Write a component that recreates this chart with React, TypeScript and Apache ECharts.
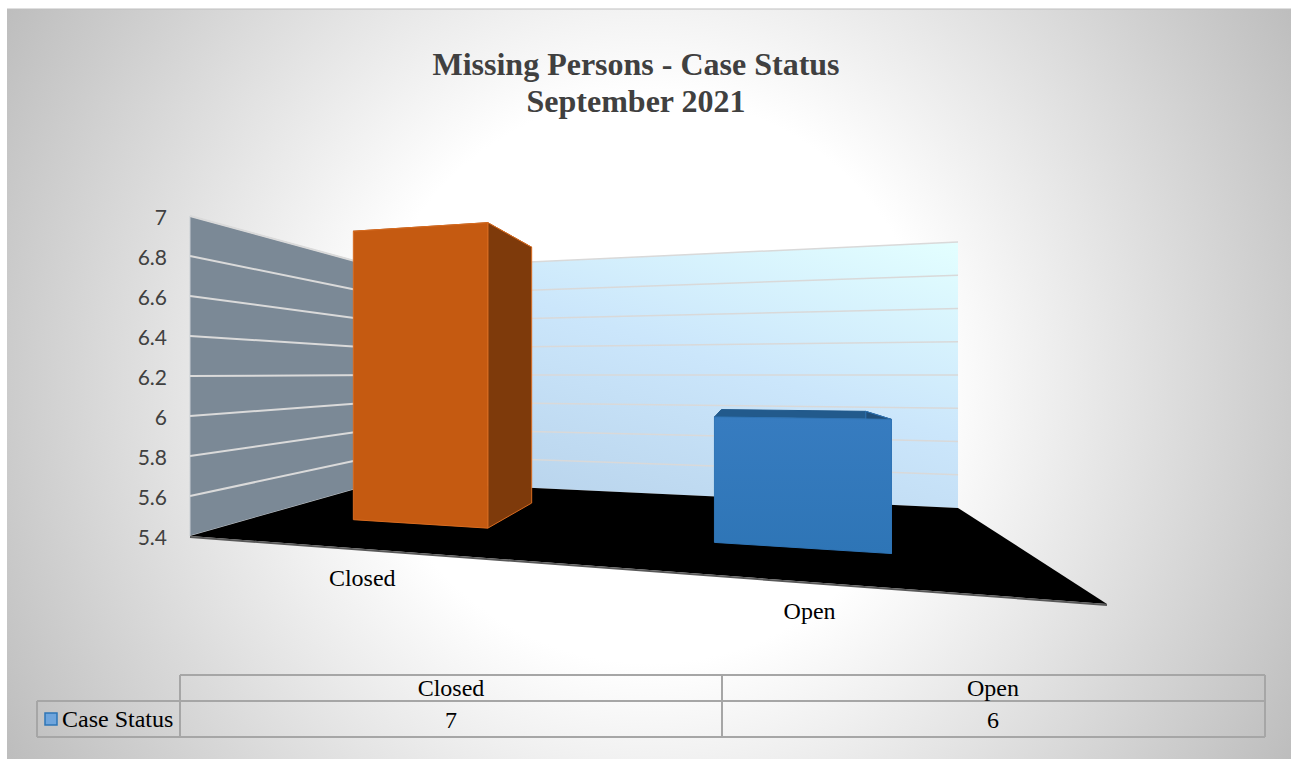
import React, { useEffect, useRef } from "react";
import * as echarts from "echarts";

const categories = ["Closed", "Open"];
const caseStatus = [7, 6];
const seriesName = "Case Status";
const titleLines = ["Missing Persons - Case Status", "September 2021"];
const axisMin = 5.4;
const axisMax = 7;
const axisStep = 0.2;
const tickValues = [5.6, 5.8, 6, 6.2, 6.4, 6.6, 6.8, 7];
const barColors = [
  { front: "#C55A11", side: "#7E3A0B", top: "#A34A0E", edge: "#D96C20" },
  { front: "#377CC0", side: "#1F4E79", top: "#225A8C", edge: "#2F74B5" },
];

const GL = 190, GT = 216, GW = 917, GH = 320;
const SERIF = "'Liberation Serif', serif";

// Perspective of the 3D box: u along categories, v depth, z fraction of the value axis.
const H = { a: 607.7, b: 395.6, c: 190, d: -100.8, e: 197.5, f: 536, g: -0.2794, h: 0.525 };
function project(u: number, v: number, z: number): number[] {
  const w = 1 + H.g * u + H.h * v;
  const x = (H.a * u + H.b * v + H.c) / w;
  const y = (H.d * u + H.e * v + H.f) / w;
  const height = GH / (1 + -0.306 * u + 0.509 * v);
  return [x, y - height * z];
}
const toU = (px: number) => (px - GL) / GW;
const toZ = (py: number) => (GT + GH - py) / GH;
const poly = (points: number[][], style: any) => ({ type: "polygon", shape: { points }, style, silent: true });

function renderWalls() {
  const backFill = new echarts.graphic.LinearGradient(1, 0, 0.3, 1, [
    { offset: 0, color: "#E3FFFF" },
    { offset: 0.5, color: "#CBE6FB" },
    { offset: 1, color: "#B9D4EC" },
  ]);
  return {
    type: "group",
    children: [
      poly([project(0, 1, 0), project(1, 1, 0), project(1, 1, 1), project(0, 1, 1)], { fill: backFill }),
      poly([project(0, 0, 0), project(0, 1, 0), project(0, 1, 1), project(0, 0, 1)], { fill: "#7B8996", stroke: "#C9CED3", lineWidth: 1 }),
      poly([project(0, 0, 0), project(1, 0, 0), project(1, 1, 0), project(0, 1, 0)], { fill: "#000000" }),
      {
        type: "line",
        shape: { x1: project(0, 0, 0)[0], y1: project(0, 0, 0)[1] + 1, x2: project(1, 0, 0)[0], y2: project(1, 0, 0)[1] + 1 },
        style: { stroke: "#595959", lineWidth: 2 },
        silent: true,
      },
    ],
  };
}

function renderTick(_p: any, api: any) {
  const z = toZ(api.coord([0, api.value(1)])[1]);
  const a = project(0, 0, z), b = project(0, 1, z), c = project(1, 1, z);
  return {
    type: "group",
    children: [
      { type: "line", shape: { x1: a[0], y1: a[1], x2: b[0], y2: b[1] }, style: { stroke: "#DADADA", lineWidth: 2 }, silent: true },
      { type: "line", shape: { x1: b[0], y1: b[1], x2: c[0], y2: c[1] }, style: { stroke: "#D9D9D9", lineWidth: 1.5 }, silent: true },
    ],
  };
}

function renderBar(p: any, api: any) {
  const i = api.value(0);
  const pt = api.coord([i, api.value(1)]);
  const halfBand = api.size([1, 0])[0] / GW;
  const uc = toU(pt[0]) - 0.007;
  const z = toZ(pt[1]);
  const u0 = uc - halfBand * 0.202, u1 = uc + halfBand * 0.202;
  const v0 = 0.3, v1 = 0.7;
  const col = barColors[p.dataIndex];
  const label = project(uc, 0, 0);
  const frontFill = new echarts.graphic.LinearGradient(0, 0, 0, 1, [
    { offset: 0, color: col.front },
    { offset: 1, color: p.dataIndex === 1 ? "#2E75B6" : col.front },
  ]);
  const edge = { stroke: col.edge, lineWidth: 1 };
  return {
    type: "group",
    children: [
      poly([project(u0, v0, z), project(u1, v0, z), project(u1, v1, z), project(u0, v1, z)], { fill: col.top, stroke: col.top, lineWidth: 1 }),
      poly([project(u1, v0, 0), project(u1, v1, 0), project(u1, v1, z), project(u1, v0, z)], { fill: col.side, ...edge }),
      poly([project(u0, v0, 0), project(u1, v0, 0), project(u1, v0, z), project(u0, v0, z)], { fill: frontFill, ...edge }),
      {
        type: "text",
        x: label[0],
        y: label[1] + 29,
        style: { text: categories[i], fill: "#000", font: `24px ${SERIF}`, align: "center", verticalAlign: "middle" },
        silent: true,
      },
    ],
  };
}

function cellText(text: string, x: number, y: number, align = "center") {
  return { type: "text", x, y, style: { text, fill: "#000", font: `24px ${SERIF}`, align, verticalAlign: "middle" }, silent: true };
}
function rule(x1: number, y1: number, x2: number, y2: number) {
  return { type: "line", shape: { x1, y1, x2, y2 }, style: { stroke: "#A6A6A6", lineWidth: 2 }, silent: true };
}

export default function App() {
  const ref = useRef<HTMLDivElement>(null);
  useEffect(() => {
    const chart = echarts.init(ref.current!, null, { renderer: "svg" });
    chart.setOption({
      animation: false,
      title: {
        text: titleLines.join("\n"),
        left: 631,
        top: 40,
        textAlign: "center",
        textStyle: { fontFamily: SERIF, fontWeight: "bold", fontSize: 32, lineHeight: 37, color: "#404040" },
      },
      grid: { left: GL, top: GT, width: GW, height: GH },
      xAxis: { type: "category", data: categories, show: false },
      yAxis: {
        type: "value",
        min: axisMin,
        max: axisMax,
        interval: axisStep,
        axisLine: { show: false },
        axisTick: { show: false },
        splitLine: { show: false },
        axisLabel: { margin: 23, fontFamily: "Lato", fontSize: 21, color: "#404040", padding: [0, 0, 8, 0] },
      },
      graphic: [
        {
          type: "rect",
          z: -10,
          silent: true,
          shape: { x: 7, y: 9, width: 1284, height: 750 },
          style: {
            fill: new echarts.graphic.RadialGradient(650, 380, 745, [
              { offset: 0, color: "#FFFFFF" },
              { offset: 0.38, color: "#FFFFFF" },
              { offset: 1, color: "#BDBDBD" },
            ], true),
          },
        },
        { type: "line", z: -9, silent: true, shape: { x1: 7, y1: 9, x2: 1291, y2: 9 }, style: { stroke: "#BFBFBF", lineWidth: 1 } },
        {
          type: "group",
          silent: true,
          children: [
            rule(180, 675, 1265, 675),
            rule(37, 701, 1265, 701),
            rule(37, 737, 1265, 737),
            rule(37, 701, 37, 737),
            rule(180, 675, 180, 737),
            rule(722, 675, 722, 737),
            rule(1265, 675, 1265, 737),
            { type: "rect", shape: { x: 45, y: 713, width: 12, height: 12 }, style: { fill: "#6FA5DC", stroke: "#2E75B6", lineWidth: 1.5 }, silent: true },
            cellText(seriesName, 62, 719, "left"),
            cellText(categories[0], 451, 688),
            cellText(categories[1], 993, 688),
            cellText(String(caseStatus[0]), 451, 720),
            cellText(String(caseStatus[1]), 993, 720),
          ],
        },
      ],
      series: [
        { type: "custom", name: "walls", coordinateSystem: "cartesian2d", clip: false, silent: true, data: [[0, axisMin]], renderItem: renderWalls, z: 1 },
        { type: "custom", name: "gridlines", coordinateSystem: "cartesian2d", clip: false, silent: true, data: tickValues.map((t) => [0, t]), renderItem: renderTick, z: 2 },
        { type: "custom", name: seriesName, coordinateSystem: "cartesian2d", clip: false, silent: true, data: categories.map((_, i) => [i, caseStatus[i]]), renderItem: renderBar, z: 3 },
      ],
    });
    return () => chart.dispose();
  }, []);
  return <div ref={ref} style={{ position: "absolute", left: 0, top: 0, width: 1291, height: 759 }} />;
}
